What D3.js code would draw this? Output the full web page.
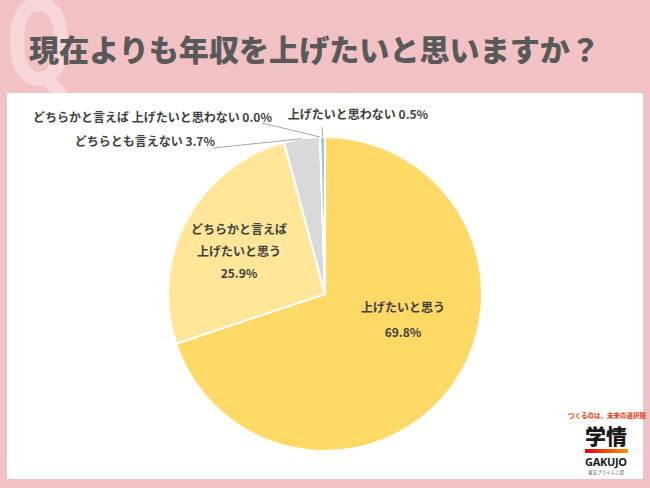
<!DOCTYPE html>
<html><head><meta charset="utf-8">
<script src="https://cdn.jsdelivr.net/npm/d3@7"></script>
<style>html,body{margin:0;padding:0;background:#f2c1c3;}svg{display:block;}</style>
</head><body>
<svg id="c" width="650" height="488"></svg>
<script>
const title = "現在よりも年収を上げたいと思いますか？";
const categories = ["上げたいと思う","どちらかと言えば上げたいと思う","どちらとも言えない","どちらかと言えば上げたいと思わない","上げたいと思わない"];
const values = [69.8, 25.9, 3.7, 0.0, 0.5];
const colors = ["#ffd966","#ffe699","#d9d9d9","#d9d9d9","#9dc3e6"];
// label lines (text lines per category) and layout
const labelLines = [
  ["上げたいと思う","69.8%"],
  ["どちらかと言えば","上げたいと思う","25.9%"],
  ["どちらとも言えない 3.7%"],
  ["どちらかと言えば 上げたいと思わない 0.0%"],
  ["上げたいと思わない 0.5%"]
];
// layout: offsets relative to pie center
const layout = [
  {x:78, y:12, anchor:"middle", lh:25},
  {x:-86, y:-66, anchor:"middle", lh:22},
  {x:-110, y:-154, anchor:"end", line:[-112,-146]},
  {x:-53, y:-178, anchor:"end", line:[-63,-171]},
  {x:33, y:-181, anchor:"middle", line:[-3,-167]}
];

const svg = d3.select("#c");
const W = 650, H = 488;
svg.append("rect").attr("width",W).attr("height",H).attr("fill","#f2c1c3");
// big Q
svg.append("text").attr("x",6).attr("y",85).attr("font-family","Roboto, 'Noto Sans', sans-serif")
  .attr("font-weight","bold").attr("font-size",122).attr("fill","#f6d6d7")
  .attr("textLength",66).attr("lengthAdjust","spacingAndGlyphs").text("Q");
// white panel
svg.append("rect").attr("x",7).attr("y",93).attr("width",636).attr("height",386).attr("fill","#ffffff");
// title
svg.append("text").attr("x",29).attr("y",61).attr("font-family","'Noto Sans CJK JP', sans-serif")
  .attr("font-weight",900).attr("font-size",29.5).attr("fill","#595959")
  .attr("textLength",571).attr("lengthAdjust","spacingAndGlyphs").text(title);

const cx = 325, cy = 294, R = 157;
const g = svg.append("g").attr("transform",`translate(${cx},${cy})`);
const pie = d3.pie().sort(null).value(d=>d);
const arcs = pie(values);
const arc = d3.arc().innerRadius(0).outerRadius(R);
g.selectAll("path.s").data(arcs).join("path").attr("class","s")
  .attr("d",arc).attr("fill",(d,i)=>colors[i]).attr("stroke","#fff").attr("stroke-width",2).attr("stroke-linejoin","round");

const font = "'Noto Sans CJK JP', sans-serif";
arcs.forEach((a,i)=>{
  const L = layout[i];
  if (L.line) {
    const mid = (a.startAngle + a.endAngle)/2;
    const ex = Math.sin(mid)*R, ey = -Math.cos(mid)*R;
    g.append("line").attr("x1",ex).attr("y1",ey).attr("x2",L.line[0]).attr("y2",L.line[1])
      .attr("stroke","#a6a6a6").attr("stroke-width",1);
  }
  const lines = labelLines[i];
  const lh = L.lh || 0;
  lines.forEach((t,k)=>{
    g.append("text").attr("x",L.x).attr("y",L.y + k*lh).attr("text-anchor",L.anchor)
      .attr("dominant-baseline","central").attr("font-family",font).attr("font-weight","bold")
      .attr("font-size",12).attr("fill","#404040").text(t);
  });
});

// logo
const lg = svg.append("g");
lg.append("text").attr("x",607).attr("y",418).attr("text-anchor","middle").attr("font-family",font)
  .attr("font-weight","bold").attr("font-size",6.5).attr("fill","#e8380d").text("つくるのは、未来の選択肢");
lg.append("text").attr("x",606).attr("y",444).attr("text-anchor","middle").attr("font-family",font)
  .attr("font-weight",900).attr("font-size",21).attr("fill","#1a1a1a").text("学情");
const grad = svg.append("defs").append("linearGradient").attr("id","lgb");
grad.append("stop").attr("offset","0%").attr("stop-color","#e60012");
grad.append("stop").attr("offset","100%").attr("stop-color","#f39800");
lg.append("rect").attr("x",585).attr("y",449).attr("width",43).attr("height",4).attr("fill","url(#lgb)");
lg.append("text").attr("x",606).attr("y",466).attr("text-anchor","middle").attr("font-family","'Noto Sans', sans-serif")
  .attr("font-weight","bold").attr("font-size",11).attr("fill","#1a1a1a").attr("textLength",42).text("GAKUJO");
lg.append("text").attr("x",606).attr("y",474).attr("text-anchor","middle").attr("font-family",font)
  .attr("font-size",4.5).attr("fill","#555").text("東証プライム上場");
</script>
</body></html>
